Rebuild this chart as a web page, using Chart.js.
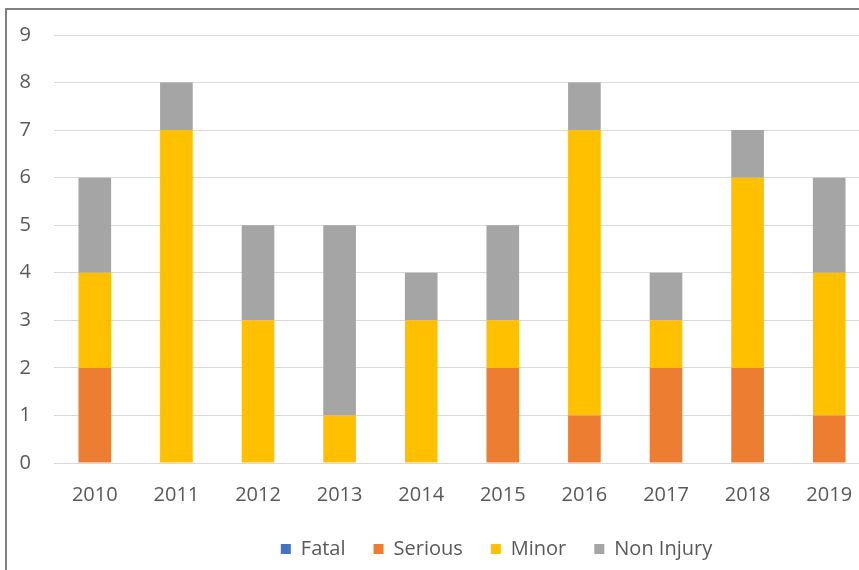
<!DOCTYPE html>
<html>
<head>
<meta charset="utf-8">
<script src="https://cdn.jsdelivr.net/npm/chart.js@4"></script>
<style>
  html, body { margin: 0; padding: 0; background: #fff; overflow: hidden; }
  #frame {
    position: absolute; left: 5px; top: 8px; width: 2000px; height: 2000px;
    border-left: 2px solid #808080; border-top: 2px solid #808080;
    pointer-events: none;
  }
  #wrap { position: absolute; left: 0; top: 0; width: 880px; height: 570px; }
</style>
</head>
<body>
<div id="frame"></div>
<div id="wrap"><canvas id="accidentChart"></canvas></div>
<script>
const years = ['2010', '2011', '2012', '2013', '2014', '2015', '2016', '2017', '2018', '2019'];
const fatal = [0, 0, 0, 0, 0, 0, 0, 0, 0, 0];
const serious = [2, 0, 0, 0, 0, 2, 1, 2, 2, 1];
const minor = [2, 7, 3, 1, 3, 1, 6, 1, 4, 3];
const nonInjury = [2, 1, 2, 4, 1, 2, 1, 1, 1, 2];
const yTicks = [0, 1, 2, 3, 4, 5, 6, 7, 8, 9];

const textColor = '#595959';
const fontFamily = '"Open Sans", "DejaVu Sans", sans-serif';

// the legend sits to the right of the plot centre in the original
const shiftLegend = {
    id: 'shiftLegend',
    afterLayout(chart) {
        const legend = chart.legend;
        if (legend) {
            legend.left += 61.5;
            legend.right += 61.5;
        }
    }
};

const ctx = document.getElementById('accidentChart').getContext('2d');

new Chart(ctx, {
    type: 'bar',
    data: {
        labels: years,
        datasets: [
            { label: 'Fatal', data: fatal, backgroundColor: '#4472C4' },
            { label: 'Serious', data: serious, backgroundColor: '#ED7D31' },
            { label: 'Minor', data: minor, backgroundColor: '#FFC000' },
            { label: 'Non Injury', data: nonInjury, backgroundColor: '#A5A5A5' }
        ]
    },
    options: {
        responsive: true,
        maintainAspectRatio: false,
        animation: false,
        layout: { padding: { top: 31, right: 10, bottom: 1, left: 0 } },
        datasets: {
            bar: { categoryPercentage: 1, barPercentage: 0.4, borderWidth: 0 }
        },
        scales: {
            x: {
                stacked: true,
                grid: { display: false, drawTicks: false },
                border: { display: false },
                ticks: { color: textColor, font: { family: fontFamily, size: 20 }, padding: 20, maxRotation: 0 },
                afterFit(scale) { scale.height = 48; }
            },
            y: {
                stacked: true,
                min: yTicks[0],
                max: yTicks[yTicks.length - 1],
                afterBuildTicks(scale) { scale.ticks = yTicks.map(v => ({ value: v })); },
                grid: { color: '#D9D9D9', lineWidth: 1, drawTicks: false },
                border: { display: false },
                ticks: { color: textColor, font: { family: fontFamily, size: 20 }, padding: 23 },
                afterFit(scale) { scale.width = 54; }
            }
        },
        plugins: {
            legend: {
                position: 'bottom',
                labels: {
                    color: textColor,
                    font: { family: fontFamily, size: 20 },
                    boxWidth: 10,
                    boxHeight: 10,
                    padding: 28
                }
            },
            tooltip: { enabled: false }
        }
    },
    plugins: [shiftLegend]
});
</script>
</body>
</html>
